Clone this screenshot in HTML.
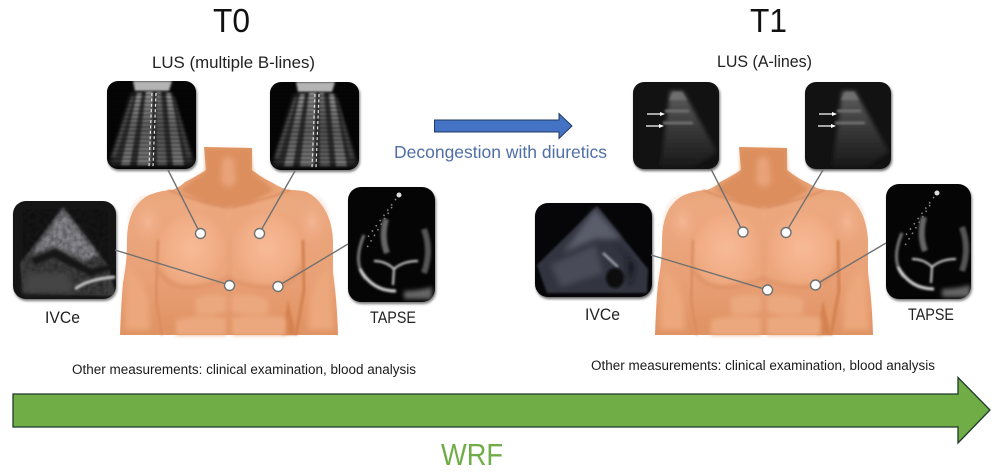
<!DOCTYPE html>
<html><head><meta charset="utf-8"><style>
html,body{margin:0;padding:0;background:#fff}
svg{display:block}
text{font-family:"Liberation Sans",sans-serif}
</style></head><body>
<svg width="1000" height="475" viewBox="0 0 1000 475" xmlns="http://www.w3.org/2000/svg">
<defs>
<filter id="b05" x="-20%" y="-20%" width="140%" height="140%"><feGaussianBlur stdDeviation=".6"/></filter>
<filter id="b1" x="-20%" y="-20%" width="140%" height="140%"><feGaussianBlur stdDeviation="1"/></filter>
<filter id="b2" x="-30%" y="-30%" width="160%" height="160%"><feGaussianBlur stdDeviation="2"/></filter>
<filter id="b3" x="-30%" y="-30%" width="160%" height="160%"><feGaussianBlur stdDeviation="3"/></filter>
<filter id="b6" x="-40%" y="-40%" width="180%" height="180%"><feGaussianBlur stdDeviation="6"/></filter>
<filter id="sh" x="-10%" y="-10%" width="120%" height="120%"><feGaussianBlur stdDeviation="1.2"/></filter>
<filter id="noise" x="0" y="0" width="100%" height="100%"><feTurbulence type="fractalNoise" baseFrequency=".22" numOctaves="2" seed="4"/><feColorMatrix type="matrix" values="0 0 0 0 0  0 0 0 0 0  0 0 0 0 0  1.8 0 0 0 -.55"/><feComposite in2="SourceGraphic" operator="in"/></filter>
<linearGradient id="skin" x1="0" y1="0" x2="0" y2="1"><stop offset="0" stop-color="#e09462"/><stop offset=".3" stop-color="#eca97f"/><stop offset=".7" stop-color="#e9a076"/><stop offset="1" stop-color="#df9262"/></linearGradient>
<radialGradient id="pec"><stop offset="0" stop-color="#f7ba96"/><stop offset=".7" stop-color="#f2ae87"/><stop offset="1" stop-color="#eca67c"/></radialGradient>
<radialGradient id="sho"><stop offset="0" stop-color="#f5b896" stop-opacity=".9"/><stop offset="1" stop-color="#e9a078" stop-opacity="0"/></radialGradient>
<linearGradient id="streak" x1="0" y1="0" x2="0" y2="1"><stop offset="0" stop-color="#a8a8a8"/><stop offset=".5" stop-color="#6a6a6a"/><stop offset="1" stop-color="#8a8a8a"/></linearGradient>
<linearGradient id="fadeA" x1="0" y1="0" x2="0" y2="1"><stop offset="0" stop-color="#5f5f5f"/><stop offset=".45" stop-color="#3c3c3c"/><stop offset="1" stop-color="#191919"/></linearGradient>

<g id="torso">
<path d="M204 147 L252 148 L252 170 Q262 178 273 183 Q282 189 290 190 Q300 190 307 192 Q318 198 325 210 Q332 222 333 240 L333 273 Q337 300 338 335 L120 335 Q121 305 123 283 Q127 262 127 240 Q127 222 134 209 Q142 197 152 194 Q163 190 172 190 Q180 187 185 182 Q197 176 206 170 Z" fill="url(#skin)"/>
<g filter="url(#b2)"><path d="M206 150 L250 150 L252 172 Q262 180 274 190 L250 204 L228 208 L206 204 L180 190 Q196 178 206 172 Z" fill="#dc8e5d"/></g>
<path d="M222 160 Q228 152 234 160 L236 182 Q229 192 221 182 Z" fill="#e9a378" filter="url(#b3)"/>
<ellipse cx="148" cy="222" rx="22" ry="30" fill="url(#sho)"/>
<ellipse cx="312" cy="222" rx="20" ry="30" fill="url(#sho)"/>
<g filter="url(#b1)">
<path d="M226 210 Q195 208 176 214 Q158 224 157 250 Q158 276 180 285 Q205 290 226 280 Z" fill="url(#pec)"/>
<path d="M232 210 Q262 208 284 214 Q302 224 303 250 Q300 276 280 285 Q255 290 232 280 Z" fill="url(#pec)"/>
</g>
<path d="M228 200 L228 335" stroke="#dc8f62" stroke-width="3.5" filter="url(#b1)"/>
<path d="M158 270 Q168 288 190 287 Q212 286 228 278 Q246 287 270 287 Q292 286 302 268" fill="none" stroke="#dd8f63" stroke-width="3" filter="url(#b2)"/>
<path d="M158 240 L156 300 L162 335" fill="none" stroke="#db8c60" stroke-width="2.5" filter="url(#b1)"/>
<path d="M303 240 L304 290 L296 335" fill="none" stroke="#d3814f" stroke-width="3" filter="url(#b1)"/>
<path d="M288 300 L296 335 L282 335 Z" fill="#d4814f" filter="url(#b1)"/>
<path d="M127 268 Q140 275 148 300 L150 330 L125 330 Z" fill="#eca77c" filter="url(#b3)"/>
<path d="M330 268 Q315 275 310 300 L308 330 L334 330 Z" fill="#eca77c" filter="url(#b3)"/>
<g filter="url(#b2)" fill="#eba87e"><path d="M196 298 Q215 292 226 296 L226 312 Q210 316 196 314 Z"/><path d="M232 296 Q250 292 268 300 L268 314 Q248 316 232 312 Z"/><path d="M176 320 Q200 314 226 318 L226 335 L176 335 Z"/><path d="M232 318 Q255 314 286 318 L286 335 L232 335 Z"/></g>
<path d="M168 190 Q192 200 226 207 M290 190 Q265 200 232 207" fill="none" stroke="#d98a5e" stroke-width="1.5" filter="url(#b1)"/>
</g>

<clipPath id="cLus"><rect width="89" height="88" rx="11"/></clipPath>
<g id="lusB">
<rect x="1" y="2" width="89" height="88" rx="11" fill="#777" filter="url(#sh)"/>
<rect width="89" height="88" rx="11" fill="#050505"/>
<g clip-path="url(#cLus)">
<path d="M24 12 L65 12 L88 84 L2 84 Z" fill="#2a2a2a" filter="url(#b2)"/>
<path d="M26 0 L65 0 L62 10 L28 10 Z" fill="#b4b4b4" filter="url(#b1)"/>
<g filter="url(#b1)" opacity=".75">
<path d="M30 12 L14 84 L23 84 L35 12 Z" fill="url(#streak)"/>
<path d="M59 12 L66 84 L77 84 L64 12 Z" fill="url(#streak)"/>
<path d="M39 10 L30 84 L44 84 L46 10 Z" fill="url(#streak)"/>
<path d="M49 10 L50 84 L60 84 L54 10 Z" fill="url(#streak)" opacity=".7"/>
<path d="M24 16 L4 76 L9 76 L27 16 Z" fill="#777" opacity=".5"/>
<path d="M66 16 L80 76 L85 76 L68 16 Z" fill="#777" opacity=".4"/>
</g>
<path d="M0 10 H89 M0 14 H89 M0 18 H89 M0 22 H89 M0 26 H89 M0 30 H89 M0 34 H89 M0 38 H89 M0 42 H89 M0 46 H89 M0 50 H89 M0 54 H89 M0 58 H89 M0 62 H89 M0 66 H89 M0 70 H89 M0 74 H89 M0 78 H89 M0 82 H89" stroke="#000" stroke-width="1" opacity=".3"/>
<path d="M45 12 L42 86 M49 12 L46 86" stroke="#e6e6e6" stroke-width="1.2" stroke-dasharray="3 2.4" fill="none"/>
</g>
</g>

<clipPath id="cLusA"><rect width="86" height="87" rx="11"/></clipPath>
<g id="lusA">
<rect x="1" y="2" width="86" height="87" rx="11" fill="#666" filter="url(#sh)"/>
<rect width="86" height="87" rx="11" fill="#121212"/>
<g clip-path="url(#cLusA)">
<path d="M37 9 L50 9 L84 70 L62 84 L27 84 L32 50 Z" fill="url(#fadeA)" filter="url(#b2)"/>
<path d="M40 10 L49 10 L54 18 L36 18 Z" fill="#6e6e6e" filter="url(#b1)"/>
<path d="M32 29 L56 29 M30 41 L60 41" stroke="#6f6f6f" stroke-width="3" filter="url(#b1)"/>
<path d="M14 32 H29 M13 44 H28" stroke="#fff" stroke-width="1.2"/>
<path d="M32 32 L27 30 L27 34 Z M31 44 L26 42 L26 46 Z" fill="#fff"/>
</g>
</g>

<clipPath id="cI0"><rect width="103" height="98" rx="13"/></clipPath>
<clipPath id="cI1"><rect width="117" height="94" rx="13"/></clipPath>
<clipPath id="cT0"><rect width="87" height="115" rx="13"/></clipPath>
<clipPath id="cT1"><rect width="85" height="115" rx="13"/></clipPath>

<g id="echo">
<circle cx="51" cy="8" r="2.5" fill="#ddd"/>
<path d="M48 12 L20 50 M44 20 L18 62" stroke="#888" stroke-width="1.6" stroke-dasharray="1.5 5" fill="none"/>
<g filter="url(#b1)" fill="none">
<path d="M38 32 Q33 50 39 66" stroke="#666" stroke-width="6"/>
<path d="M16 48 Q4 76 18 92" stroke="#777" stroke-width="3"/>
<path d="M12 82 Q24 104 48 104" stroke="#d8d8d8" stroke-width="3"/>
<path d="M26 74 Q38 74 46 82 Q55 74 70 74 M46 82 L45 98" stroke="#d8d8d8" stroke-width="2"/>
<path d="M76 42 Q84 64 76 86" stroke="#555" stroke-width="6"/>
</g>
<path d="M56 104 Q70 104 84 100 L84 112 L56 112 Z" fill="#666" filter="url(#b2)"/>
</g>
</defs>

<rect width="1000" height="475" fill="#fff"/>

<!-- Titles -->
<text x="231.5" y="32" font-size="33" text-anchor="middle" textLength="37" lengthAdjust="spacingAndGlyphs" fill="#111">T0</text>
<text x="768.5" y="32" font-size="33" text-anchor="middle" textLength="37" lengthAdjust="spacingAndGlyphs" fill="#111">T1</text>
<text x="152" y="68" font-size="17" textLength="163" lengthAdjust="spacingAndGlyphs" fill="#222">LUS (multiple B-lines)</text>
<text x="717" y="67" font-size="17" textLength="95" lengthAdjust="spacingAndGlyphs" fill="#222">LUS (A-lines)</text>

<!-- Torsos -->
<use href="#torso"/>
<use href="#torso" transform="translate(535 0)"/>

<!-- T0 images -->
<use href="#lusB" transform="translate(107 81)"/>
<use href="#lusB" transform="translate(270 82)"/>
<g transform="translate(13 201)">
<rect x="1" y="2" width="103" height="98" rx="13" fill="#777" filter="url(#sh)"/>
<rect width="103" height="98" rx="13" fill="#151515"/>
<g clip-path="url(#cI0)">
<path d="M50 6 L95 64 L103 95 L10 92 L7 62 Z" fill="#3d3d3d" filter="url(#b1)"/>
<path d="M50 8 L86 54 L72 60 L42 46 L18 54 Z" fill="#85858b" filter="url(#b2)"/>
<rect x="10" y="8" width="85" height="85" fill="#111" filter="url(#noise)" clip-path="none" opacity=".35"/>
<path d="M18 58 L42 48 L78 68 L103 62 L103 67 L78 75 L40 56 L22 64 Z" fill="#161616" filter="url(#b1)"/>
<path d="M62 88 Q75 78 102 76" fill="none" stroke="#c8c8c8" stroke-width="3" filter="url(#b1)"/>
<path d="M14 72 L55 72 L60 92 L10 92 Z" fill="#454545" filter="url(#b3)"/>
</g>
</g>
<g transform="translate(348 187)">
<rect x="1" y="2" width="87" height="115" rx="13" fill="#777" filter="url(#sh)"/>
<rect width="87" height="115" rx="13" fill="#050505"/>
<g clip-path="url(#cT0)"><use href="#echo"/></g>
</g>

<!-- T1 images -->
<use href="#lusA" transform="translate(633 82)"/>
<use href="#lusA" transform="translate(805 82)"/>
<g transform="translate(535 203)">
<rect x="1" y="2" width="117" height="94" rx="13" fill="#666" filter="url(#sh)"/>
<rect width="117" height="94" rx="13" fill="#060608"/>
<g clip-path="url(#cI1)">
<path d="M62 3 L113 66 L112 90 L12 90 L2 62 Z" fill="#33353f" filter="url(#b1)"/>
<path d="M60 6 L86 36 L60 36 L28 50 Z" fill="#5a5d6a" filter="url(#b3)"/>
<path d="M16 62 L60 42 L68 70 L26 84 Z" fill="#4a4c58" filter="url(#b3)"/>
<path d="M68 50 L83 64" stroke="#a0a3ae" stroke-width="2.5" filter="url(#b1)"/>
<ellipse cx="80" cy="75" rx="9" ry="10" fill="#0a0a0e" filter="url(#b1)"/>
<path d="M75 35 L100 62 L95 85 L92 55 Z" fill="#16171f" filter="url(#b3)"/>
</g>
</g>
<g transform="translate(886 184)">
<rect x="1" y="2" width="85" height="115" rx="13" fill="#777" filter="url(#sh)"/>
<rect width="85" height="115" rx="13" fill="#050505"/>
<g clip-path="url(#cT1)"><use href="#echo" transform="translate(0 1)"/></g>
</g>

<!-- Connector lines -->
<g stroke="#6f7272" stroke-width="1.4" fill="none">
<path d="M168 170 L200 233 M295 171 L259.5 233 M115 250 L229.5 285 M348 244 L278 286"/>
<path d="M711 169 L743 232 M823 170 L786 232 M651 255 L767.5 290 M886 243 L815 285"/>
</g>
<g fill="#fff" stroke="#6f7272" stroke-width="1.4">
<circle cx="200.5" cy="233.5" r="5"/><circle cx="259.5" cy="233.5" r="5"/><circle cx="229.5" cy="285.5" r="5"/><circle cx="278" cy="286.5" r="5"/>
<circle cx="743" cy="232" r="5"/><circle cx="786" cy="232.5" r="5"/><circle cx="767.5" cy="290" r="5"/><circle cx="815.5" cy="285" r="5"/>
</g>

<!-- Labels -->
<text x="45" y="323" font-size="17" textLength="35" lengthAdjust="spacingAndGlyphs" fill="#222">IVCe</text>
<text x="370" y="323" font-size="17" textLength="46" lengthAdjust="spacingAndGlyphs" fill="#222">TAPSE</text>
<text x="585" y="320" font-size="17" textLength="35" lengthAdjust="spacingAndGlyphs" fill="#222">IVCe</text>
<text x="908" y="320" font-size="17" textLength="46" lengthAdjust="spacingAndGlyphs" fill="#222">TAPSE</text>

<!-- Blue arrow -->
<path d="M434.5 120 H559 V113.5 L572 126 L559 138.5 V132 H434.5 Z" fill="#4472c4" stroke="#1f3864" stroke-width="1"/>
<text x="394" y="158" font-size="17.5" textLength="213" lengthAdjust="spacingAndGlyphs" fill="#4f6fa5">Decongestion with diuretics</text>

<!-- Other measurements -->
<text x="72" y="374" font-size="13.5" textLength="344" lengthAdjust="spacingAndGlyphs" fill="#1a1a1a">Other measurements: clinical examination, blood analysis</text>
<text x="591" y="370" font-size="13.5" textLength="344" lengthAdjust="spacingAndGlyphs" fill="#1a1a1a">Other measurements: clinical examination, blood analysis</text>

<!-- Green arrow -->
<path d="M13 394 H958 V377.5 L990 410 L958 443 V427 H13 Z" fill="#70ad47" stroke="#1f3a2a" stroke-width="1.3"/>
<text x="441" y="465" font-size="31" textLength="62" lengthAdjust="spacingAndGlyphs" fill="#70ad47">WRF</text>
</svg>
</body></html>
